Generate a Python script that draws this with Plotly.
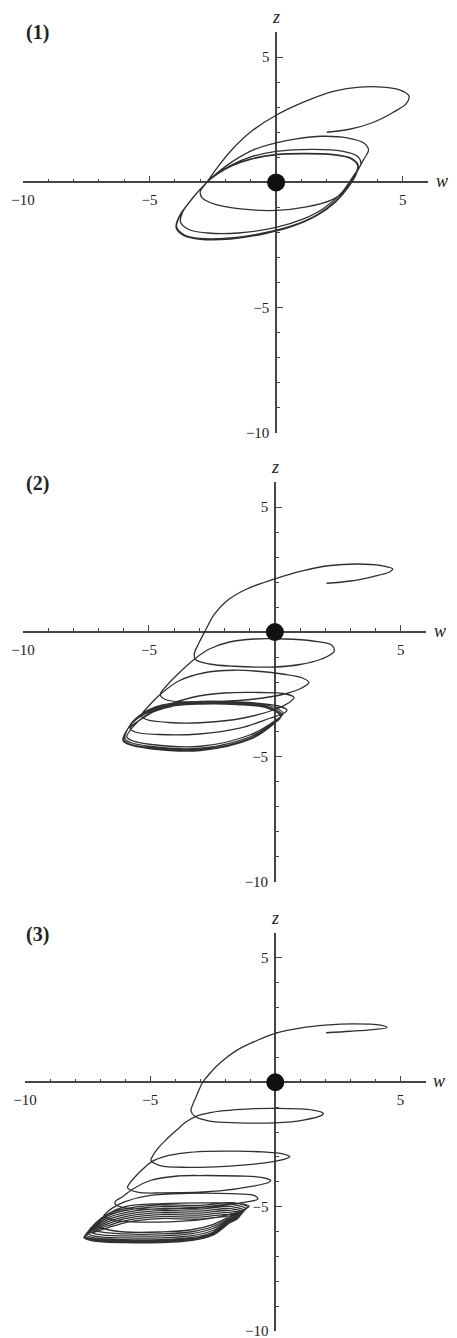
import plotly.graph_objects as go

W, H = 457, 1338

# ---------------- trajectory data (w, z) ----------------
# Panel (1): orbit spiralling onto a cycle around the origin region
p1_approach = [(2.0, 2.0), (2.9, 2.12), (3.8, 2.38), (4.6, 2.78), (5.15, 3.15), (5.25, 3.45),
               (4.9, 3.68), (4.2, 3.8), (3.3, 3.8), (2.3, 3.64), (1.2, 3.25), (0.0, 2.68),
               (-1.0, 2.02), (-1.75, 1.3), (-2.3, 0.62), (-2.74, 0.0)]
p1_loop2 = [(-3.0, -0.38), (-2.92, -0.62), (-2.4, -0.88), (-1.3, -1.07), (0.0, -1.12), (1.2, -0.98),
            (2.15, -0.72), (2.75, -0.3), (3.1, 0.25), (3.45, 0.9), (3.65, 1.3), (3.45, 1.58),
            (2.8, 1.78), (1.8, 1.84), (0.8, 1.74), (0.0, 1.58), (-0.9, 1.3), (-1.7, 0.85),
            (-2.3, 0.4), (-2.74, 0.0)]
p1_loop3 = [(-3.3, -0.62), (-3.7, -1.2), (-3.78, -1.58), (-3.45, -1.88), (-2.7, -2.02), (-1.5, -2.02),
            (0.0, -1.8), (1.1, -1.45), (1.9, -1.02), (2.6, -0.4), (3.05, 0.25), (3.35, 0.75),
            (3.2, 1.05), (2.6, 1.25), (1.5, 1.32), (0.0, 1.24), (-1.0, 1.02), (-1.75, 0.7),
            (-2.3, 0.36), (-2.74, 0.0)]
p1_cycle_a = [(-3.35, -0.7), (-3.8, -1.33), (-3.93, -1.78), (-3.62, -2.1), (-3.0, -2.24), (-1.8, -2.22),
              (-0.5, -2.02), (0.6, -1.74), (1.6, -1.3), (2.35, -0.74), (2.85, -0.15), (3.15, 0.35),
              (3.22, 0.68), (2.95, 0.95), (2.25, 1.1), (1.1, 1.14), (0.0, 1.1), (-1.0, 0.92),
              (-1.75, 0.66), (-2.3, 0.35), (-2.74, 0.0)]
p1_cycle_b = [(-3.37, -0.72), (-3.83, -1.36), (-3.95, -1.8), (-3.63, -2.13), (-3.0, -2.27), (-1.8, -2.25),
              (-0.5, -2.05), (0.6, -1.76), (1.6, -1.32), (2.35, -0.76), (2.87, -0.16), (3.17, 0.35),
              (3.24, 0.7), (2.96, 0.97), (2.25, 1.12), (1.1, 1.16), (0.0, 1.12), (-1.0, 0.94),
              (-1.75, 0.67), (-2.3, 0.36), (-2.74, 0.0)]
p1_cycle_c = [(-3.36, -0.71), (-3.82, -1.35), (-3.95, -1.81), (-3.64, -2.13), (-3.0, -2.27), (-1.8, -2.26),
              (-0.5, -2.06), (0.6, -1.77), (1.6, -1.33), (2.36, -0.77), (2.87, -0.17), (3.17, 0.34),
              (3.24, 0.69), (2.96, 0.96), (2.25, 1.11), (1.1, 1.15), (0.0, 1.11)]

# Panel (2): orbit drifting down-left onto a lower cycle
p2_approach = [(2.05, 1.95), (3.0, 2.04), (3.9, 2.22), (4.55, 2.4), (4.68, 2.52), (4.2, 2.66),
               (3.3, 2.72), (2.2, 2.66), (1.1, 2.45), (0.0, 2.13), (-1.2, 1.68), (-1.9, 1.25),
               (-2.4, 0.72), (-2.75, 0.08), (-3.02, -0.45), (-3.2, -0.88)]
p2_loop_b = [(-3.15, -1.1), (-2.6, -1.28), (-1.6, -1.37), (0.0, -1.4), (1.0, -1.3), (1.85, -1.08),
             (2.35, -0.78), (2.25, -0.52), (1.5, -0.36), (0.4, -0.28), (-0.8, -0.28), (-1.8, -0.4),
             (-2.6, -0.68), (-3.15, -1.05), (-3.87, -1.7), (-4.3, -2.15), (-4.55, -2.5)]
p2_loop_c = [(-4.35, -2.7), (-3.5, -2.8), (-2.2, -2.78), (-0.8, -2.68), (0.3, -2.5), (1.05, -2.25),
             (1.35, -2.02), (1.1, -1.84), (0.3, -1.68), (-0.8, -1.56), (-1.64, -1.53), (-2.8, -1.63),
             (-3.8, -1.95), (-4.5, -2.45), (-5.0, -2.95), (-5.3, -3.35)]
p2_loop_d = [(-5.1, -3.5), (-4.2, -3.62), (-2.8, -3.62), (-1.3, -3.45), (0.0, -3.1), (0.6, -2.8),
             (0.76, -2.62), (0.4, -2.47), (-0.6, -2.42), (-2.0, -2.44), (-3.3, -2.62), (-4.4, -2.98),
             (-5.25, -3.45), (-5.75, -3.85)]
p2_loop_e = [(-5.55, -4.0), (-4.6, -4.1), (-3.0, -4.08), (-1.4, -3.85), (-0.2, -3.45), (0.4, -3.22),
             (0.48, -3.12), (0.1, -2.95), (-1.0, -2.82), (-2.5, -2.78), (-4.0, -2.95), (-5.1, -3.32),
             (-5.6, -3.75)]
p2_cycle_1 = [(-5.88, -4.2), (-5.68, -4.34), (-4.9, -4.5), (-2.95, -4.57), (-1.0, -4.12), (0.0, -3.55),
              (0.33, -3.25), (-0.25, -2.94), (-1.5, -2.8), (-2.95, -2.78), (-4.5, -2.93), (-5.35, -3.32),
              (-5.8, -3.8)]
p2_cycle_2 = [(-5.95, -4.27), (-5.75, -4.41), (-4.92, -4.58), (-2.95, -4.65), (-0.98, -4.19), (-0.03, -3.61),
              (0.28, -3.31), (-0.28, -2.99), (-1.5, -2.85), (-2.95, -2.83), (-4.5, -2.98), (-5.38, -3.38),
              (-5.84, -3.87)]
p2_cycle_3 = [(-6.0, -4.32), (-5.8, -4.46), (-4.93, -4.63), (-2.95, -4.7), (-0.96, -4.24), (-0.05, -3.66),
              (0.25, -3.36), (-0.3, -3.02), (-1.5, -2.88), (-2.95, -2.86), (-4.5, -3.01), (-5.4, -3.41),
              (-5.86, -3.9)]
p2_cycle_4 = [(-6.02, -4.34), (-5.82, -4.48), (-4.93, -4.66), (-2.95, -4.73), (-0.95, -4.27), (-0.06, -3.68),
              (0.23, -3.38), (-0.32, -3.04), (-1.5, -2.9), (-2.95, -2.88), (-4.5, -3.03), (-5.42, -3.43),
              (-5.88, -3.93)]
p2_cycle_5 = [(-6.03, -4.35), (-5.83, -4.49), (-4.93, -4.67), (-2.95, -4.74), (-0.95, -4.28), (-0.06, -3.69),
              (0.22, -3.39)]

# Panel (3): orbit drifting further down-left onto the lowest cycle
p3_approach = [(2.03, 1.99), (3.0, 2.05), (3.9, 2.12), (4.47, 2.2), (4.2, 2.3), (3.12, 2.35),
               (2.0, 2.3), (1.1, 2.2), (0.0, 1.97), (-0.8, 1.65), (-1.56, 1.27), (-2.2, 0.78),
               (-2.62, 0.35), (-2.9, 0.0), (-3.15, -0.55), (-3.32, -0.95)]
p3_loop2 = [(-3.37, -1.15), (-3.2, -1.38), (-2.63, -1.56), (-1.5, -1.63), (0.0, -1.63), (1.12, -1.52),
            (1.85, -1.33), (1.92, -1.25), (1.5, -1.12), (0.0, -1.05), (-1.56, -1.1), (-2.6, -1.22),
            (-3.17, -1.37), (-3.6, -1.62), (-3.97, -1.95), (-4.35, -2.3), (-4.64, -2.6), (-4.92, -3.0)]
p3_loop3 = [(-4.97, -3.15), (-4.6, -3.35), (-3.5, -3.42), (-2.0, -3.38), (-0.5, -3.25), (0.35, -3.1),
            (0.58, -3.0), (0.3, -2.88), (-0.5, -2.8), (-1.56, -2.77), (-2.8, -2.78), (-3.6, -2.84),
            (-4.4, -2.98), (-4.95, -3.2), (-5.3, -3.5), (-5.6, -3.8), (-5.88, -4.15)]
p3_loop4 = [(-5.9, -4.25), (-5.5, -4.42), (-4.5, -4.45), (-2.23, -4.37), (-0.9, -4.18), (-0.25, -4.02),
            (-0.18, -3.95), (-0.5, -3.83), (-1.5, -3.77), (-3.0, -3.75), (-3.9, -3.77), (-5.0, -3.95),
            (-5.7, -4.3), (-6.1, -4.6), (-6.4, -4.8)]
p3_loop5 = [(-6.38, -4.92), (-6.0, -5.05), (-4.5, -5.1), (-2.5, -5.0), (-1.2, -4.82), (-0.7, -4.7),
            (-0.85, -4.55), (-1.8, -4.48), (-3.5, -4.47), (-5.0, -4.55), (-6.0, -4.8), (-6.5, -5.05),
            (-6.8, -5.3)]
p3_loop6 = [(-6.85, -5.38), (-6.4, -5.55), (-4.8, -5.62), (-2.8, -5.5), (-1.5, -5.22), (-1.05, -4.98),
            (-1.4, -4.88), (-2.5, -4.85), (-4.5, -4.88), (-6.0, -5.0), (-6.7, -5.3)]
p3_dense_1 = [(-7.2, -5.75), (-6.85, -5.89), (-6.0, -6.02), (-4.6, -6.02), (-3.4, -5.94), (-2.5, -5.72),
              (-1.47, -5.22), (-1.12, -5.02), (-1.62, -4.85), (-3.0, -4.95), (-4.6, -4.93), (-5.8, -5.05),
              (-6.7, -5.3)]
p3_dense_2 = [(-7.33, -5.88), (-6.98, -6.02), (-6.0, -6.1), (-4.6, -6.1), (-3.4, -6.02), (-2.5, -5.8),
              (-1.53, -5.3), (-1.18, -5.1), (-1.68, -4.92), (-3.0, -5.02), (-4.6, -5.0), (-5.8, -5.12),
              (-6.7, -5.37)]
p3_dense_3 = [(-7.43, -5.98), (-7.08, -6.12), (-6.0, -6.18), (-4.6, -6.18), (-3.4, -6.1), (-2.5, -5.88),
              (-1.59, -5.37), (-1.24, -5.17), (-1.74, -5.0), (-3.0, -5.1), (-4.6, -5.08), (-5.8, -5.2),
              (-6.7, -5.45)]
p3_dense_4 = [(-7.5, -6.06), (-7.15, -6.2), (-6.0, -6.26), (-4.6, -6.26), (-3.4, -6.18), (-2.5, -5.96),
              (-1.65, -5.44), (-1.3, -5.24), (-1.8, -5.08), (-3.0, -5.18), (-4.6, -5.16), (-5.8, -5.28),
              (-6.7, -5.53)]
p3_dense_5 = [(-7.56, -6.12), (-7.21, -6.26), (-6.0, -6.33), (-4.6, -6.33), (-3.4, -6.25), (-2.5, -6.03),
              (-1.7, -5.5), (-1.35, -5.3), (-1.85, -5.16), (-3.0, -5.26), (-4.6, -5.24), (-5.8, -5.36),
              (-6.7, -5.61)]
p3_dense_6 = [(-7.6, -6.17), (-7.25, -6.31), (-6.0, -6.38), (-4.6, -6.38), (-3.4, -6.3), (-2.5, -6.08),
              (-1.75, -5.56), (-1.4, -5.36), (-1.9, -5.24), (-3.0, -5.34), (-4.6, -5.32), (-5.8, -5.44),
              (-6.7, -5.69)]
p3_dense_7 = [(-7.63, -6.21), (-7.28, -6.35), (-6.0, -6.42), (-4.6, -6.42), (-3.4, -6.34), (-2.5, -6.12),
              (-1.79, -5.61), (-1.44, -5.41), (-1.94, -5.32), (-3.0, -5.42), (-4.6, -5.4), (-5.8, -5.52),
              (-6.7, -5.77)]
p3_dense_8 = [(-7.65, -6.24), (-7.3, -6.38), (-6.0, -6.45), (-4.6, -6.45), (-3.4, -6.37), (-2.5, -6.15),
              (-1.82, -5.65), (-1.47, -5.45), (-1.97, -5.4), (-3.0, -5.5), (-4.6, -5.48), (-5.8, -5.6),
              (-6.7, -5.85), (-7.3, -6.05)]

panel_paths = [
    [p1_approach, p1_loop2, p1_loop3, p1_cycle_a, p1_cycle_b, p1_cycle_c],
    [p2_approach, p2_loop_b, p2_loop_c, p2_loop_d, p2_loop_e,
     p2_cycle_1, p2_cycle_2, p2_cycle_3, p2_cycle_4, p2_cycle_5],
    [p3_approach, p3_loop2, p3_loop3, p3_loop4, p3_loop5, p3_loop6,
     p3_dense_1, p3_dense_2, p3_dense_3, p3_dense_4, p3_dense_5, p3_dense_6, p3_dense_7, p3_dense_8],
]
panel_labels = ["(1)", "(2)", "(3)"]
equilibrium = (0.0, 0.0)

w_range = [-10, 6]
z_range = [-10, 6]
major_vals = [-10, -5, 5]
major_text = ["\u221210", "\u22125", "5"]
minor_vals = [v for v in range(-10, 7) if v not in major_vals]

# panel frames in pixels: (left, right, top, bottom) of the axis box
frames = [(23, 428, 32, 433), (23, 426, 482, 882), (25, 425.5, 933, 1331)]

AX = "#454545"
LINE = "#303030"
SERIF = "Liberation Serif"

fig = go.Figure()
layout = dict(
    width=W, height=H, margin=dict(l=0, r=0, t=0, b=0),
    paper_bgcolor="white", plot_bgcolor="white", showlegend=False,
    template="none", annotations=[],
)

for i, (paths, lbl, fr) in enumerate(zip(panel_paths, panel_labels, frames)):
    k = "" if i == 0 else str(i + 1)
    left, right, top, bottom = fr
    xd = [left / W, right / W]
    yd = [1 - bottom / H, 1 - top / H]
    x0_paper = xd[0] + (xd[1] - xd[0]) * (0 - w_range[0]) / (w_range[1] - w_range[0])
    y0_paper = yd[0] + (yd[1] - yd[0]) * (0 - z_range[0]) / (z_range[1] - z_range[0])

    common = dict(
        showline=True, linecolor=AX, linewidth=1.5, showgrid=False, zeroline=False,
        ticks="inside", ticklen=6, tickwidth=1.3, tickcolor=AX,
        tickmode="array", tickvals=major_vals, ticktext=major_text,
        tickfont=dict(family=SERIF, size=15, color="#222"),
        ticklabeloverflow="allow",
        minor=dict(tickmode="array", tickvals=minor_vals, ticks="inside",
                   ticklen=3, tickwidth=1, tickcolor=AX, showgrid=False),
        layer="below traces", fixedrange=True,
    )
    layout["xaxis" + k] = dict(common, domain=xd, range=[w_range[0] - 0.001, w_range[1] + 0.001],
                               anchor="free", position=y0_paper, side="bottom",
                               ticklabelstandoff=4)
    layout["yaxis" + k] = dict(common, domain=yd, range=[z_range[0] - 0.001, z_range[1] + 0.001],
                               anchor="free", position=x0_paper, side="left",
                               ticklabelstandoff=3)

    ws, zs = [], []
    for seg in paths:
        ws += [p[0] for p in seg]
        zs += [p[1] for p in seg]
    fig.add_trace(go.Scatter(x=ws, y=zs, mode="lines", xaxis="x" + k, yaxis="y" + k,
                             line=dict(color=LINE, width=1.3, shape="spline", smoothing=1.0),
                             hoverinfo="skip"))
    fig.add_trace(go.Scatter(x=[equilibrium[0]], y=[equilibrium[1]], mode="markers",
                             xaxis="x" + k, yaxis="y" + k,
                             marker=dict(size=18, color="#111"), hoverinfo="skip"))

    layout["annotations"] += [
        dict(text="<i>z</i>", x=0, y=z_range[1], xref="x" + k, yref="y" + k,
             showarrow=False, yanchor="middle", yshift=15,
             font=dict(family=SERIF, size=18, color="#222")),
        dict(text="<i>w</i>", x=w_range[1], y=0, xref="x" + k, yref="y" + k,
             showarrow=False, xanchor="center", xshift=14, yshift=1,
             font=dict(family=SERIF, size=18, color="#222")),
        dict(text="<b>%s</b>" % lbl, x=37 / W, y=1 - (top + 1) / H, xref="paper", yref="paper",
             showarrow=False, xanchor="center", yanchor="middle",
             font=dict(family=SERIF, size=20, color="#222")),
    ]

fig.update_layout(**layout)
fig.write_html("out.html")
